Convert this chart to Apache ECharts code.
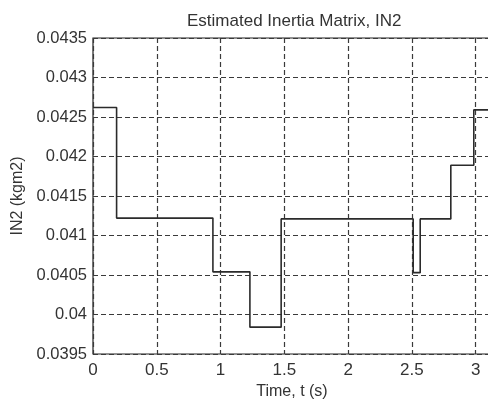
<!DOCTYPE html>
<html>
<head>
<meta charset="utf-8">
<script src="https://cdn.jsdelivr.net/npm/echarts@6/dist/echarts.min.js"></script>
<style>
  html, body { margin: 0; padding: 0; background: #fff; }
  #chart { width: 488px; height: 399px; }
</style>
</head>
<body>
<div id="chart"></div>
<script>
// Piecewise-constant estimate of IN2: each value holds from its time until the next one
var switchTimes = [0, 0.185, 0.94, 1.23, 1.475, 2.51, 2.565, 2.805, 2.985, 3.12];
var in2Values = [0.04262, 0.04122, 0.04054, 0.03984, 0.04121, 0.04053, 0.04121, 0.04189, 0.04259, 0.04259];

var xTicks = { min: 0, max: 3.12, step: 0.5 };
var yTicks = { min: 0.0395, max: 0.0435, step: 0.0005 };

var FONT = '"Liberation Sans", Arial, sans-serif';
var TEXT = '#333';
var GRID_LINE = { color: '#3a3a3a', width: 1.2, type: [5, 3] };

var points = switchTimes.map(function (t, i) { return [t, in2Values[i]]; });

var chart = echarts.init(document.getElementById('chart'), null, { renderer: 'canvas' });
chart.setOption({
  animation: false,
  backgroundColor: '#fff',
  title: {
    text: 'Estimated Inertia Matrix, IN2',
    left: 182,
    top: 8,
    textStyle: { fontFamily: FONT, fontSize: 17, fontWeight: 'normal', color: TEXT }
  },
  grid: {
    left: 93, top: 38, bottom: 45, right: -3,
    outerBoundsMode: 'none',
    containLabel: false,
    show: true, borderColor: '#222', borderWidth: 1.2, backgroundColor: '#fff'
  },
  xAxis: {
    type: 'value',
    min: xTicks.min, max: xTicks.max, interval: xTicks.step,
    name: 'Time, t (s)',
    nameLocation: 'middle',
    nameGap: 21,
    nameTextStyle: { fontFamily: FONT, fontSize: 16, color: TEXT },
    axisLine: { show: false },
    axisTick: { show: false },
    axisLabel: {
      fontFamily: FONT, fontSize: 17, color: TEXT, margin: 8,
      showMaxLabel: false,
      formatter: function (v) { return String(parseFloat(v.toFixed(2))); }
    },
    splitLine: { show: true, lineStyle: GRID_LINE }
  },
  yAxis: {
    type: 'value',
    min: yTicks.min, max: yTicks.max, interval: yTicks.step,
    name: 'IN2 (kgm2)',
    nameLocation: 'middle',
    nameGap: 58,
    nameTextStyle: { fontFamily: FONT, fontSize: 16, color: TEXT },
    axisLine: { show: false },
    axisTick: { show: false },
    axisLabel: {
      fontFamily: FONT, fontSize: 16.5, color: TEXT, margin: 6,
      formatter: function (v) { return String(parseFloat(v.toFixed(4))); }
    },
    splitLine: { show: true, lineStyle: GRID_LINE }
  },
  series: [{
    type: 'line',
    step: 'end',
    data: points,
    showSymbol: false,
    lineStyle: { color: '#2b2b2b', width: 1.6 }
  }]
});
</script>
</body>
</html>
